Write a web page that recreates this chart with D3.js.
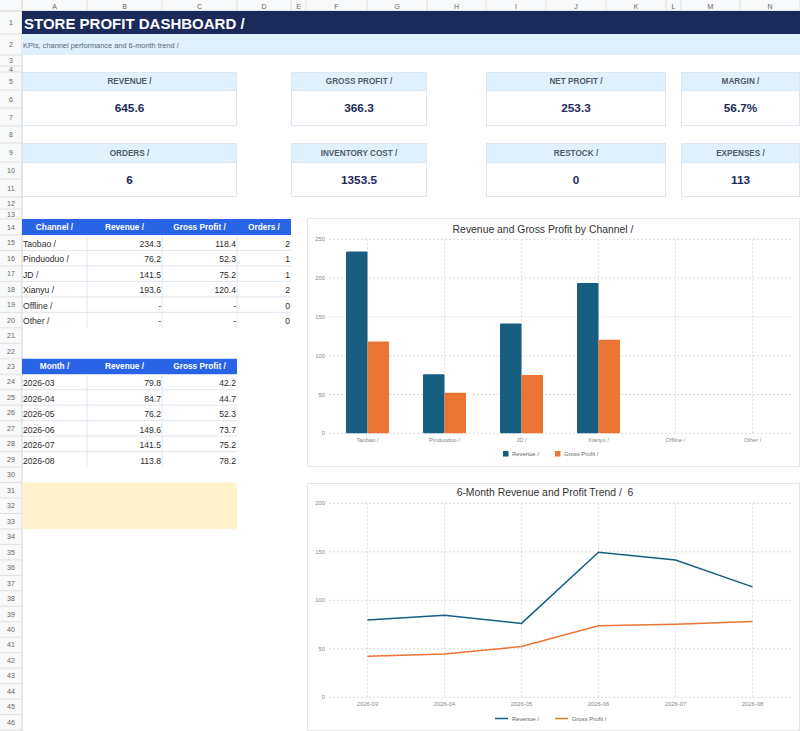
<!DOCTYPE html>
<html>
<head>
<meta charset="utf-8">
<script src="https://cdn.jsdelivr.net/npm/d3@7"></script>
<style>
  body { margin: 0; background: #fff; }
  svg { display: block; font-family: "Liberation Sans", Arial, sans-serif; }
</style>
</head>
<body>
<div id="sheet"></div>
<script>
// ---- data read from the sheet ----
var kpiLabels = ["REVENUE /", "GROSS PROFIT /", "NET PROFIT /", "MARGIN /",
                 "ORDERS /", "INVENTORY COST /", "RESTOCK /", "EXPENSES /"];
var kpiValues = ["645.6", "366.3", "253.3", "56.7%", "6", "1353.5", "0", "113"];

var channels = ["Taobao /", "Pinduoduo /", "JD /", "Xianyu /", "Offline /", "Other /"];
var channelRevenue = [234.3, 76.2, 141.5, 193.6, null, null];
var channelProfit = [118.4, 52.3, 75.2, 120.4, null, null];
var channelOrders = [2, 1, 1, 2, 0, 0];

var months = ["2026-03", "2026-04", "2026-05", "2026-06", "2026-07", "2026-08"];
var monthRevenue = [79.8, 84.7, 76.2, 149.6, 141.5, 113.8];
var monthProfit = [42.2, 44.7, 52.3, 73.7, 75.2, 78.2];

var channelHeaders = ["Channel /", "Revenue /", "Gross Profit /", "Orders /"];
var monthHeaders = ["Month /", "Revenue /", "Gross Profit /"];
var seriesNames = ["Revenue /", "Gross Profit /"];

// ---- sheet layout ----
var W = 800, H = 731;
var colEdges = [22, 87, 162, 237, 291, 306, 367, 427, 486, 546, 606, 666, 681, 740, 800];
var colLetters = "ABCDEFGHIJKLMN".split("");
var rowEdges = [11, 34, 55, 66, 72, 90, 108, 126, 143, 162, 179, 197, 209, 219, 235];
for (var r = 15; r <= 46; r++) rowEdges.push(235 + (r - 14) * 15.47);
// rowTop(n) = top of row n (1-based)
function rowTop(n) { return rowEdges[n - 1]; }
function colX(c) { return colEdges[c]; }  // c: 0 = A

var blue = "#175e80", orange = "#ea7434", navy = "#1b2a5a";

var svg = d3.select("#sheet").append("svg")
    .attr("width", W).attr("height", H);

svg.append("rect").attr("width", W).attr("height", H).attr("fill", "#fff");

// column header strip
svg.append("rect").attr("x", 0).attr("y", 0).attr("width", W).attr("height", 11)
    .attr("fill", "#f8f9fa");
svg.append("rect").attr("x", 0).attr("y", 0).attr("width", 22).attr("height", H)
    .attr("fill", "#f8f9fa");
svg.append("line").attr("x1", 0).attr("x2", W).attr("y1", 11).attr("y2", 11)
    .attr("stroke", "#d4d4d4");
svg.append("line").attr("x1", 22).attr("x2", 22).attr("y1", 0).attr("y2", H)
    .attr("stroke", "#d4d4d4");

colLetters.forEach(function(l, i) {
  svg.append("line").attr("x1", colEdges[i + 1]).attr("x2", colEdges[i + 1])
      .attr("y1", 0).attr("y2", 11).attr("stroke", "#e0e0e0");
  svg.append("text").attr("x", (colEdges[i] + colEdges[i + 1]) / 2).attr("y", 8.5)
      .attr("text-anchor", "middle").attr("font-size", 7).attr("fill", "#666").text(l);
});
for (var n = 1; n <= 46; n++) {
  var y0 = rowTop(n), y1 = rowEdges[n];
  svg.append("line").attr("x1", 0).attr("x2", 22).attr("y1", y1).attr("y2", y1)
      .attr("stroke", "#e0e0e0");
  svg.append("text").attr("x", 11).attr("y", (y0 + y1) / 2 + 2.5)
      .attr("text-anchor", "middle").attr("font-size", 7).attr("fill", "#666").text(n);
}

// title + subtitle rows
svg.append("rect").attr("x", 22).attr("y", rowTop(1)).attr("width", W - 22)
    .attr("height", rowTop(2) - rowTop(1)).attr("fill", navy);
svg.append("text").attr("x", 24).attr("y", 28.5).attr("font-size", 15)
    .attr("font-weight", "bold").attr("fill", "#fff").text("STORE PROFIT DASHBOARD /");
svg.append("rect").attr("x", 22).attr("y", rowTop(2)).attr("width", W - 22)
    .attr("height", rowTop(3) - rowTop(2)).attr("fill", "#e0f0fd");
svg.append("text").attr("x", 23).attr("y", 47.5).attr("font-size", 7.4)
    .attr("fill", "#5a6678").text("KPIs, channel performance and 6-month trend /");

// KPI cards
var cardCols = [[0, 3], [4, 7], [8, 11], [12, 14]];
kpiLabels.forEach(function(label, i) {
  var cc = cardCols[i % 4];
  var top = i < 4 ? 5 : 9;
  var x0 = colX(cc[0]), x1 = colX(cc[1]);
  var yH = rowTop(top), yV = rowTop(top + 1), yB = rowTop(top + 3);
  var g = svg.append("g");
  g.append("rect").attr("x", x0 + 0.5).attr("y", yH + 0.5).attr("width", x1 - x0 - 1)
      .attr("height", yB - yH - 1).attr("fill", "#fff").attr("stroke", "#dbe6f1");
  g.append("rect").attr("x", x0 + 0.5).attr("y", yH + 0.5).attr("width", x1 - x0 - 1)
      .attr("height", yV - yH).attr("fill", "#e1f0fd").attr("stroke", "#dbe6f1");
  g.append("text").attr("x", (x0 + x1) / 2).attr("y", (yH + yV) / 2 + 3)
      .attr("text-anchor", "middle").attr("font-size", 8.2).attr("font-weight", "bold")
      .attr("fill", "#4f5b6c").text(label);
  g.append("text").attr("x", (x0 + x1) / 2).attr("y", (yV + yB) / 2 + 4.2)
      .attr("text-anchor", "middle").attr("font-size", 11.8).attr("font-weight", "bold")
      .attr("fill", navy).text(kpiValues[i]);
});

// generic table
function drawTable(headRow, headers, rows, nCols) {
  var g = svg.append("g");
  var x0 = colX(0), x1 = colX(nCols);
  g.append("rect").attr("x", x0).attr("y", rowTop(headRow)).attr("width", x1 - x0)
      .attr("height", rowTop(headRow + 1) - rowTop(headRow)).attr("fill", "#2a64e6");
  headers.forEach(function(h, c) {
    g.append("text").attr("x", (colX(c) + colX(c + 1)) / 2)
        .attr("y", (rowTop(headRow) + rowTop(headRow + 1)) / 2 + 3)
        .attr("text-anchor", "middle").attr("font-size", 8.3).attr("font-weight", "bold")
        .attr("fill", "#fff").text(h);
  });
  rows.forEach(function(row, r) {
    var n = headRow + 1 + r, yt = rowTop(n), yb = rowTop(n + 1);
    if (r < rows.length - 1)
      g.append("line").attr("x1", x0).attr("x2", x1).attr("y1", yb).attr("y2", yb)
          .attr("stroke", "#dfe6ee");
    row.forEach(function(v, c) {
      var t = g.append("text").attr("y", yb - 3.5).attr("font-size", 8.6).attr("fill", "#2b2b2b");
      if (c === 0) t.attr("x", colX(0) + 1).text(v);
      else t.attr("x", colX(c + 1) - 1).attr("text-anchor", "end").text(v);
    });
  });
  for (var c = 1; c < nCols; c++) {
    g.append("line").attr("x1", colX(c)).attr("x2", colX(c))
        .attr("y1", rowTop(headRow + 1)).attr("y2", rowTop(headRow + 1 + rows.length))
        .attr("stroke", "#dfe6ee");
  }
}
function fmt(v) { return v == null ? "-" : d3.format(".1f")(v); }

drawTable(14, channelHeaders, channels.map(function(ch, i) {
  return [ch, fmt(channelRevenue[i]), fmt(channelProfit[i]), String(channelOrders[i])];
}), 4);
drawTable(23, monthHeaders, months.map(function(m, i) {
  return [m, fmt(monthRevenue[i]), fmt(monthProfit[i])];
}), 3);

// yellow note block
svg.append("rect").attr("x", colX(0)).attr("y", rowTop(31)).attr("width", colX(3) - colX(0))
    .attr("height", rowTop(34) - rowTop(31)).attr("fill", "#fff2cc");

// ---- chart frame helper ----
function chartFrame(x0, y0, x1, y1, title, titleX, titleY) {
  var g = svg.append("g");
  g.append("rect").attr("x", x0 + 0.5).attr("y", y0 + 0.5).attr("width", x1 - x0 - 1)
      .attr("height", y1 - y0 - 1).attr("fill", "#fff").attr("stroke", "#e6e6e6");
  g.append("text").attr("x", titleX).attr("y", titleY).attr("text-anchor", "middle")
      .attr("font-size", 10.4).attr("fill", "#333").style("white-space", "pre").text(title);
  return g;
}
function grid(g, xr, y, yTicks) {
  yTicks.forEach(function(t) {
    g.append("line").attr("x1", xr[0]).attr("x2", xr[1]).attr("y1", y(t)).attr("y2", y(t))
        .attr("stroke", "#dcdcdc").attr("stroke-dasharray", "2,2");
    g.append("text").attr("x", xr[0] - 4).attr("y", y(t) + 2).attr("text-anchor", "end")
        .attr("font-size", 5.8).attr("fill", "#888").text(t);
  });
}

// ---- bar chart ----
var bar = chartFrame(307, 218, 800, 467, "Revenue and Gross Profit by Channel /", 543, 232.5);
var xb = d3.scaleBand().domain(channels).range([329, 791]).paddingInner(0).paddingOuter(0);
var yb = d3.scaleLinear().domain([0, 250]).range([433.3, 239.3]);
channels.forEach(function(c) {
  var cx = xb(c) + xb.bandwidth() / 2;
  bar.append("line").attr("x1", cx).attr("x2", cx).attr("y1", yb(250)).attr("y2", yb(0))
      .attr("stroke", "#dcdcdc").attr("stroke-dasharray", "2,2");
  bar.append("text").attr("x", cx).attr("y", 442).attr("text-anchor", "middle")
      .attr("font-size", 5.8).attr("fill", "#888").text(c);
});
grid(bar, xb.range(), yb, d3.range(0, 251, 50));
var xs = d3.scaleBand().domain([0, 1]).range([-21.5, 21.5]);
[channelRevenue, channelProfit].forEach(function(vals, s) {
  bar.selectAll(null).data(channels.map(function(c, i) { return { c: c, v: vals[i] || 0 }; })
      .filter(function(d) { return d.v > 0; }))
    .enter().append("rect")
      .attr("x", function(d) { return xb(d.c) + xb.bandwidth() / 2 + xs(s); })
      .attr("width", xs.bandwidth())
      .attr("y", function(d) { return yb(d.v); })
      .attr("height", function(d) { return yb(0) - yb(d.v); })
      .attr("rx", 1)
      .attr("fill", s === 0 ? blue : orange);
});
var legB = [[503, seriesNames[0]], [555, seriesNames[1]]];
legB.forEach(function(l, i) {
  bar.append("rect").attr("x", l[0]).attr("y", 451).attr("width", 5.5).attr("height", 5.5)
      .attr("fill", i === 0 ? blue : orange);
  bar.append("text").attr("x", l[0] + 9).attr("y", 456).attr("font-size", 5.9)
      .attr("fill", "#666").text(l[1]);
});

// ---- line chart ----
var ln = chartFrame(307, 483, 800, 731, "6-Month Revenue and Profit Trend /  6", 545, 495.5);
var xp = d3.scalePoint().domain(months).range([329, 791]).padding(0.5);
var yl = d3.scaleLinear().domain([0, 200]).range([697.3, 503.3]);
months.forEach(function(m) {
  ln.append("line").attr("x1", xp(m)).attr("x2", xp(m)).attr("y1", yl(200)).attr("y2", yl(0))
      .attr("stroke", "#dcdcdc").attr("stroke-dasharray", "2,2");
  ln.append("text").attr("x", xp(m)).attr("y", 705.5).attr("text-anchor", "middle")
      .attr("font-size", 5.8).attr("fill", "#888").text(m);
});
grid(ln, xp.range(), yl, d3.range(0, 201, 50));
var line = d3.line().x(function(d, i) { return xp(months[i]); }).y(function(d) { return yl(d); });
[monthRevenue, monthProfit].forEach(function(vals, s) {
  ln.append("path").datum(vals).attr("d", line).attr("fill", "none")
      .attr("stroke", s === 0 ? blue : orange).attr("stroke-width", 1.5);
});
var legL = [[495, seriesNames[0]], [555, seriesNames[1]]];
legL.forEach(function(l, i) {
  ln.append("line").attr("x1", l[0]).attr("x2", l[0] + 13).attr("y1", 718.5).attr("y2", 718.5)
      .attr("stroke", i === 0 ? blue : orange).attr("stroke-width", 1.5);
  ln.append("text").attr("x", l[0] + 17).attr("y", 720.8).attr("font-size", 5.9)
      .attr("fill", "#666").text(l[1]);
});
</script>
</body>
</html>
